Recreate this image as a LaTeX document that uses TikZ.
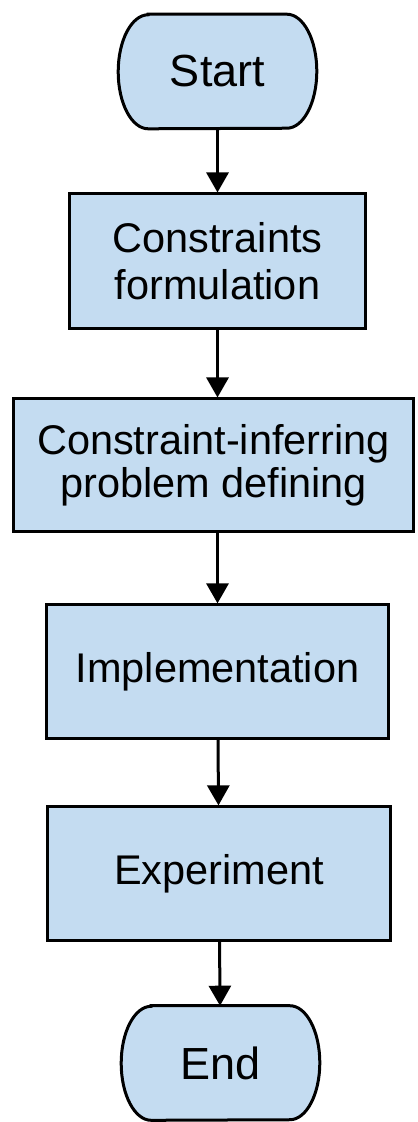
\documentclass[tikz,border=0pt]{standalone}
\usepackage{fontspec}
\setmainfont{Liberation Sans}
\usepackage{tikz}
\usetikzlibrary{arrows.meta}
\usetikzlibrary{backgrounds}
\usetikzlibrary{positioning}

\definecolor{boxblue}{RGB}{196,220,241}

\begin{document}
\begin{tikzpicture}[x=0.025cm,y=-0.025cm]
        \tikzstyle{base}=[draw=black, fill=boxblue, line width=0.075cm]
        \tikzstyle{term}=[align=center, inner sep=0, minimum width=4.95cm, minimum height=2.85cm, font=\fontsize{32}{36}\selectfont]
        \tikzstyle{proc}=[base, rectangle, align=center, minimum height=3.33cm, font=\fontsize{29.5}{33}\selectfont]
        \tikzstyle{flow}=[draw, line width=0.075cm, -{Triangle[length=0.5cm,width=0.55cm]}, black]

        % outline of a start/end node, elliptic ends
        \newcommand{\terminal}[1]{
                \draw[base] ([xshift=0.75cm]#1.north west) -- ([xshift=-0.75cm]#1.north east)
                        arc[start angle=90, end angle=-90, x radius=0.75cm, y radius=1.425cm]
                        -- ([xshift=0.75cm]#1.south west)
                        arc[start angle=270, end angle=90, x radius=0.75cm, y radius=1.425cm] -- cycle;
        }

        \useasboundingbox (0,0) rectangle (417,1122);

        \node (start) at (217.5,71.5) [term]{Start};
        \node (form) at (217.5,261) [proc, minimum width=7.375cm, minimum height=3.35cm]{Constraints\\formulation};
        \node (prob) at (213.5,465) [proc, minimum width=9.975cm, minimum height=3.3cm, font=\fontsize{29.5}{30.5}\selectfont]{Constraint-inferring\\problem defining};
        \node (impl) at (217.5,671.5) [proc, minimum width=8.525cm]{Implementation};
        \node (expe) at (219,873.5) [proc, minimum width=8.55cm]{Experiment};
        \node (end) at (220.5,1063) [term]{End};

        \begin{scope}[on background layer]
                \terminal{start}
                \terminal{end}
        \end{scope}

        \draw[flow] (start)--(form);
        \draw[flow] (form.south)--(form.south |- prob.north);
        \draw[flow] (prob.south -| form.south)--(form.south |- impl.north);
        \draw[flow] (impl)--(expe);
        \draw[flow] (expe)--(end);
\end{tikzpicture}
\end{document}
